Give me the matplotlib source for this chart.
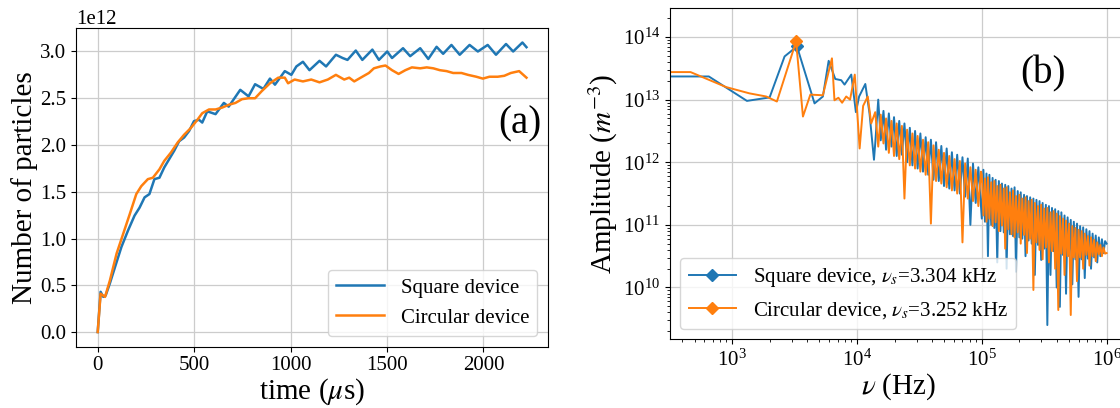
import numpy as np
import matplotlib
matplotlib.use("Agg")
import matplotlib.pyplot as plt

plt.rcParams["font.family"] = ["Liberation Serif", "DejaVu Serif"]
plt.rcParams["mathtext.fontset"] = "stix"

BLUE = "#1f77b4"
ORANGE = "#ff7f0e"

# ---- panel (a): number of particles vs time (units of 1e12) ----
TIME_SQ = [0, 15, 29, 41, 63, 89, 123, 157, 191, 217, 243, 268, 294, 320, 345,
           371, 397, 422, 448, 474, 499, 525, 542, 568, 611, 654, 679, 739, 782,
           816, 859, 893, 919, 970, 1004, 1030, 1064, 1098, 1150, 1184, 1235,
           1270, 1295, 1338, 1372, 1424, 1458, 1501, 1526, 1583, 1620, 1672, 1714,
           1757, 1791, 1834, 1877, 1928, 1971, 2022, 2065, 2117, 2154, 2202, 2223]
N_SQ = [0.0, 0.43, 0.376, 0.39, 0.52, 0.69, 0.91, 1.085, 1.245, 1.33, 1.44, 1.475,
        1.635, 1.65, 1.76, 1.85, 1.94, 2.04, 2.08, 2.15, 2.255, 2.27, 2.24, 2.36,
        2.33, 2.45, 2.41, 2.59, 2.52, 2.65, 2.60, 2.71, 2.645, 2.79, 2.75, 2.84,
        2.89, 2.80, 2.90, 2.84, 2.965, 2.93, 2.91, 3.01, 2.91, 3.02, 2.91, 3.00,
        2.93, 3.035, 2.95, 3.035, 2.92, 3.05, 2.975, 3.07, 2.965, 3.07, 3.00, 3.07,
        2.965, 3.08, 3.00, 3.096, 3.046]

TIME_CI = [0, 15, 38, 63, 98, 132, 166, 200, 226, 260, 286, 320, 345, 380, 414,
           448, 482, 517, 542, 577, 611, 645, 679, 714, 748, 782, 816, 850, 893,
           936, 970, 987, 1021, 1064, 1107, 1150, 1193, 1235, 1278, 1304, 1330,
           1372, 1406, 1432, 1466, 1492, 1526, 1560, 1595, 1629, 1672, 1706, 1740,
           1774, 1809, 1843, 1886, 1920, 1963, 1997, 2031, 2074, 2108, 2142, 2185,
           2223]
N_CI = [0.0, 0.41, 0.376, 0.55, 0.84, 1.05, 1.26, 1.475, 1.56, 1.635, 1.65, 1.74,
        1.83, 1.92, 2.025, 2.11, 2.18, 2.27, 2.34, 2.38, 2.38, 2.40, 2.43, 2.45,
        2.49, 2.50, 2.50, 2.575, 2.66, 2.72, 2.72, 2.66, 2.70, 2.68, 2.70, 2.67,
        2.70, 2.75, 2.70, 2.72, 2.68, 2.73, 2.77, 2.82, 2.84, 2.85, 2.80, 2.76,
        2.80, 2.83, 2.82, 2.83, 2.82, 2.80, 2.79, 2.77, 2.77, 2.75, 2.73, 2.71,
        2.73, 2.73, 2.74, 2.77, 2.79, 2.72]

# ---- panel (b): amplitude spectra (log10 of amplitude in m^-3) ----
PEAK_SQ = 3304
PEAK_CI = 3252

FREQ_SQ_LOW = [300, 650, 1313, 1995, 2630, PEAK_SQ, 4570, 5330, 5930, 6700, 7480,
               7950, 9000, 9800, 10400, 11660, 12600, 13680]
LOGAMP_SQ_LOW = [13.37, 13.37, 12.98, 13.035, 13.69, 13.85, 12.94, 13.05, 13.62,
                 13.33, 13.31, 13.24, 13.40, 12.80, 13.05, 13.25, 12.78, 12.04]

FREQ_CI_LOW = [300, 464, 896, 1377, 1875, 2282, PEAK_CI, 3690, 4230, 5330, 6300,
               6600, 7100, 7600, 8200, 8800, 9600, 10500, 11200, 12200, 13000]
LOGAMP_CI_LOW = [13.44, 13.44, 13.20, 13.10, 13.05, 12.97, 13.93, 12.73, 13.08,
                 13.07, 13.66, 12.99, 13.03, 12.95, 13.05, 13.00, 13.40, 12.22,
                 12.90, 13.05, 12.62]

FREQ_MID_KHZ = [14.0, 14.8, 15.5, 16.3, 17.1, 18.0, 18.9, 19.8, 20.8, 21.8,
                22.9, 24.0, 25.2, 26.5, 27.8, 29.2, 30.6, 32.2, 33.8, 35.5,
                37.2, 39.1, 41.0, 43.0, 45.2, 47.4, 49.8, 52.3, 54.9, 57.6,
                60.5, 63.5, 66.7, 70.0, 73.5, 77.2, 81.0, 85.0, 89.3, 93.8,
                98.4]
LOGAMP_SQ_MID = [12.30, 13.00, 12.35, 12.82, 12.20, 12.78, 12.25, 12.72, 12.10, 12.66,
                 12.12, 12.62, 12.00, 12.55, 11.95, 12.50, 11.90, 12.46, 11.85, 12.40,
                 11.80, 12.36, 11.72, 12.32, 11.70, 12.26, 11.62, 12.22, 11.58, 12.16,
                 11.55, 12.12, 11.50, 12.08, 11.45, 12.06, 11.00, 11.98, 11.35, 11.92,
                 11.30]
LOGAMP_CI_MID = [12.80, 12.25, 12.76, 12.30, 12.70, 12.15, 12.66, 12.10, 12.62, 12.05,
                 12.58, 11.42, 12.52, 11.95, 12.46, 11.90, 12.42, 11.85, 12.36, 11.80,
                 12.32, 11.02, 12.27, 11.70, 12.20, 11.66, 12.15, 11.60, 12.10, 11.55,
                 12.05, 11.50, 12.02, 10.72, 11.98, 11.42, 11.92, 11.38, 11.88, 11.30,
                 11.85]

FREQ_HIGH_KHZ = [100, 103, 106, 109, 112, 115, 119, 122, 126, 129,
                 133, 137, 141, 145, 150, 154, 158, 163, 168, 173,
                 178, 183, 188, 194, 200, 205, 211, 218, 224, 230,
                 237, 244, 251, 259, 266, 274, 282, 290, 299, 307,
                 316, 326, 335, 345, 355, 365, 376, 387, 398, 410,
                 422, 434, 447, 460, 473, 487, 501, 516, 531, 546,
                 562, 579, 596, 613, 631, 649, 668, 688, 708, 729,
                 750, 772, 794, 818, 841, 866, 891, 917, 944, 972,
                 1000]
LOGAMP_SQ_HIGH = [11.10, 11.88, 11.05, 11.82, 10.50, 11.80, 11.00, 11.75, 10.95, 11.72,
                  10.40, 11.70, 10.90, 11.66, 10.88, 11.64, 10.30, 11.62, 10.85, 11.58,
                  10.82, 11.60, 10.25, 11.54, 10.80, 11.52, 10.78, 11.48, 10.50, 11.46,
                  10.75, 11.44, 10.70, 11.42, 10.20, 11.40, 10.68, 11.38, 10.44, 11.35,
                  10.62, 11.32, 9.40, 11.30, 10.20, 11.27, 10.58, 11.25, 10.00, 11.22,
                  9.69, 11.20, 10.52, 11.15, 9.90, 11.12, 10.50, 11.08, 10.05, 11.05,
                  10.45, 11.02, 9.85, 10.98, 10.45, 10.96, 10.15, 10.93, 10.46, 10.90,
                  10.30, 10.86, 10.48, 10.83, 10.40, 10.80, 10.50, 10.77, 10.55, 10.74,
                  10.70]
LOGAMP_CI_HIGH = [11.80, 11.15, 11.74, 11.05, 11.76, 11.10, 11.68, 10.98, 11.70, 11.04,
                  11.62, 10.90, 11.64, 10.99, 11.58, 10.62, 11.60, 10.93, 11.52, 10.85,
                  11.55, 10.80, 11.46, 10.88, 11.48, 10.70, 11.42, 10.84, 11.44, 10.55,
                  11.38, 10.78, 11.40, 9.96, 11.35, 10.72, 11.30, 10.60, 11.32, 10.45,
                  11.26, 10.64, 11.27, 10.40, 11.20, 10.58, 11.22, 10.30, 11.18, 9.64,
                  11.14, 10.54, 11.10, 10.20, 11.07, 10.50, 11.02, 9.56, 10.98, 10.48,
                  10.95, 10.10, 10.92, 10.48, 10.90, 10.30, 10.86, 10.52, 10.82, 10.35,
                  10.80, 10.50, 10.76, 10.42, 10.72, 10.53, 10.68, 10.50, 10.64, 10.54,
                  10.55]


def spectrum(f_low, a_low, a_mid, a_high):
    f = np.concatenate([f_low, np.array(FREQ_MID_KHZ) * 1e3, np.array(FREQ_HIGH_KHZ) * 1e3])
    a = 10.0 ** np.concatenate([a_low, a_mid, a_high])
    return f, a


fig = plt.figure(figsize=(11.2, 4.08), dpi=100)

# panel (a)
ax1 = fig.add_axes([0.0681, 0.1507, 0.4211, 0.7806])
ax1.plot(TIME_SQ, np.array(N_SQ) * 1e12, color=BLUE, lw=1.8, label="Square device")
ax1.plot(TIME_CI, np.array(N_CI) * 1e12, color=ORANGE, lw=1.8, label="Circular device")
ax1.set_xlabel(r"time ($\mu$s)", fontsize=21, labelpad=1)
ax1.set_ylabel("Number of particles", fontsize=21, labelpad=2)
ax1.tick_params(labelsize=15)
ax1.yaxis.get_offset_text().set_fontsize(15)
ax1.set_xticks([0, 500, 1000, 1500, 2000])
ax1.grid(True, color="#cccccc", lw=0.9)
ax1.legend(loc="lower right", fontsize=15, handlelength=2.3)
ax1.text(0.94, 0.70, "(a)", transform=ax1.transAxes, fontsize=28,
         ha="center", va="center")

# panel (b) -- right edge runs past the figure, as in the original crop
ax2 = fig.add_axes([0.598, 0.168, 0.409, 0.8134])
f_sq, a_sq = spectrum(FREQ_SQ_LOW, LOGAMP_SQ_LOW, LOGAMP_SQ_MID, LOGAMP_SQ_HIGH)
f_ci, a_ci = spectrum(FREQ_CI_LOW, LOGAMP_CI_LOW, LOGAMP_CI_MID, LOGAMP_CI_HIGH)
ax2.plot(f_sq, a_sq, color=BLUE, lw=1.4, marker="D", ms=6,
         markevery=[FREQ_SQ_LOW.index(PEAK_SQ)],
         label=rf"Square device, $\nu_s$={PEAK_SQ / 1000:.3f} kHz")
ax2.plot(f_ci, a_ci, color=ORANGE, lw=1.4, marker="D", ms=6,
         markevery=[FREQ_CI_LOW.index(PEAK_CI)],
         label=rf"Circular device, $\nu_s$={PEAK_CI / 1000:.3f} kHz")
ax2.set_xscale("log")
ax2.set_yscale("log")
ax2.set_xlim(10 ** 2.5, 10 ** 6.17)
ax2.set_ylim(10 ** 9.17, 10 ** 14.47)
ax2.set_xlabel(r"$\nu$ (Hz)", fontsize=21, labelpad=1)
ax2.set_ylabel(r"Amplitude ($m^{-3}$)", fontsize=21, labelpad=2)
ax2.tick_params(labelsize=15)
ax2.grid(True, which="major", color="#cccccc", lw=0.9)
ax2.legend(loc="lower left", fontsize=15, handlelength=2.3)
ax2.text(0.814, 0.80, "(b)", transform=ax2.transAxes, fontsize=28,
         ha="center", va="center")

fig.savefig("out.png", dpi=100)
